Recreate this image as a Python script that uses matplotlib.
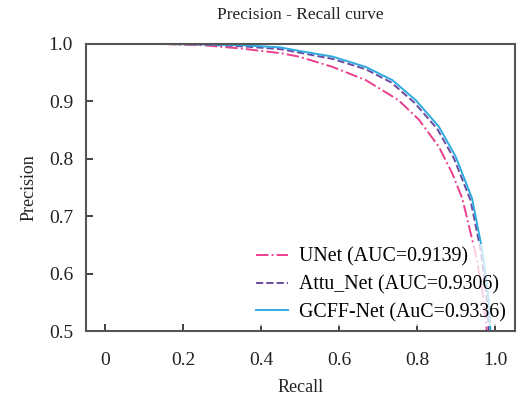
import matplotlib.pyplot as plt

plt.rcParams['font.family'] = ['Liberation Serif', 'DejaVu Serif']

# --- data ---
recall_unet = [0.15, 0.25, 0.35, 0.45, 0.497, 0.583, 0.668, 0.752, 0.804, 0.855, 0.889,
               0.915, 0.949, 0.966, 0.978, 0.983]
prec_unet = [1.0, 0.998, 0.992, 0.984, 0.978, 0.960, 0.937, 0.902, 0.868, 0.821, 0.775,
             0.731, 0.635, 0.571, 0.50, 0.46]

recall_attu = [0.15, 0.25, 0.35, 0.45, 0.497, 0.583, 0.668, 0.733, 0.792, 0.851, 0.894,
               0.936, 0.962, 0.978, 0.983, 0.987]
prec_attu = [1.0, 0.999, 0.996, 0.991, 0.985, 0.974, 0.956, 0.933, 0.898, 0.852, 0.800,
             0.728, 0.641, 0.554, 0.50, 0.46]

recall_gcff = [0.15, 0.25, 0.35, 0.45, 0.497, 0.583, 0.668, 0.736, 0.796, 0.855, 0.898,
               0.940, 0.966, 0.983, 0.987, 0.990]
prec_gcff = [1.0, 0.9995, 0.998, 0.994, 0.988, 0.978, 0.960, 0.937, 0.902, 0.856, 0.804,
             0.731, 0.641, 0.554, 0.50, 0.46]

labels = ["UNet (AUC=0.9139)", "Attu_Net (AUC=0.9306)", "GCFF-Net (AuC=0.9336)"]
x_ticks = [0, 0.2, 0.4, 0.6, 0.8, 1.0]
x_ticklabels = ["0", "0.2", "0.4", "0.6", "0.8", "1.0"]
y_ticks = [0.5, 0.6, 0.7, 0.8, 0.9, 1.0]

fig = plt.figure(figsize=(5.21, 4.03), dpi=100)
ax = fig.add_axes([85.5 / 521, 1 - 331 / 403, (515 - 85.5) / 521, (331 - 44) / 403])

ax.plot(recall_unet, prec_unet, linestyle='-.', color='#ea3f8e', linewidth=1.4, label=labels[0])
ax.plot(recall_attu, prec_attu, linestyle='--', color='#6b4b9e', linewidth=1.4, label=labels[1])
ax.plot(recall_gcff, prec_gcff, linestyle='-', color='#2eaae2', linewidth=1.4, label=labels[2])

ax.set_xlim(-0.05, 1.05)
ax.set_ylim(0.5, 1.0)
ax.set_xticks(x_ticks)
ax.set_xticklabels(x_ticklabels)
ax.set_yticks(y_ticks)
ax.tick_params(direction='in', length=5, width=1.2, labelsize=14, colors='#222222',
               pad=9)
ax.tick_params(axis='x', pad=15)
for s in ax.spines.values():
    s.set_color('#555555')
    s.set_linewidth(1.5)

ax.set_title("Precision - Recall curve", fontsize=12.5, pad=18, color='#222222')
ax.set_xlabel("Recall", fontsize=13, labelpad=7, color='#222222')
ax.set_ylabel("Precision", fontsize=13, labelpad=8, color='#222222')

leg = ax.legend(loc='lower right', fontsize=14.3, frameon=True, fancybox=False,
                handlelength=1.6, handletextpad=0.55, labelspacing=0.42,
                borderpad=0.2, borderaxespad=0.25)
leg.get_frame().set_edgecolor('none')
leg.get_frame().set_facecolor('white')
leg.get_frame().set_alpha(0.75)

plt.savefig("out.png", dpi=100)
